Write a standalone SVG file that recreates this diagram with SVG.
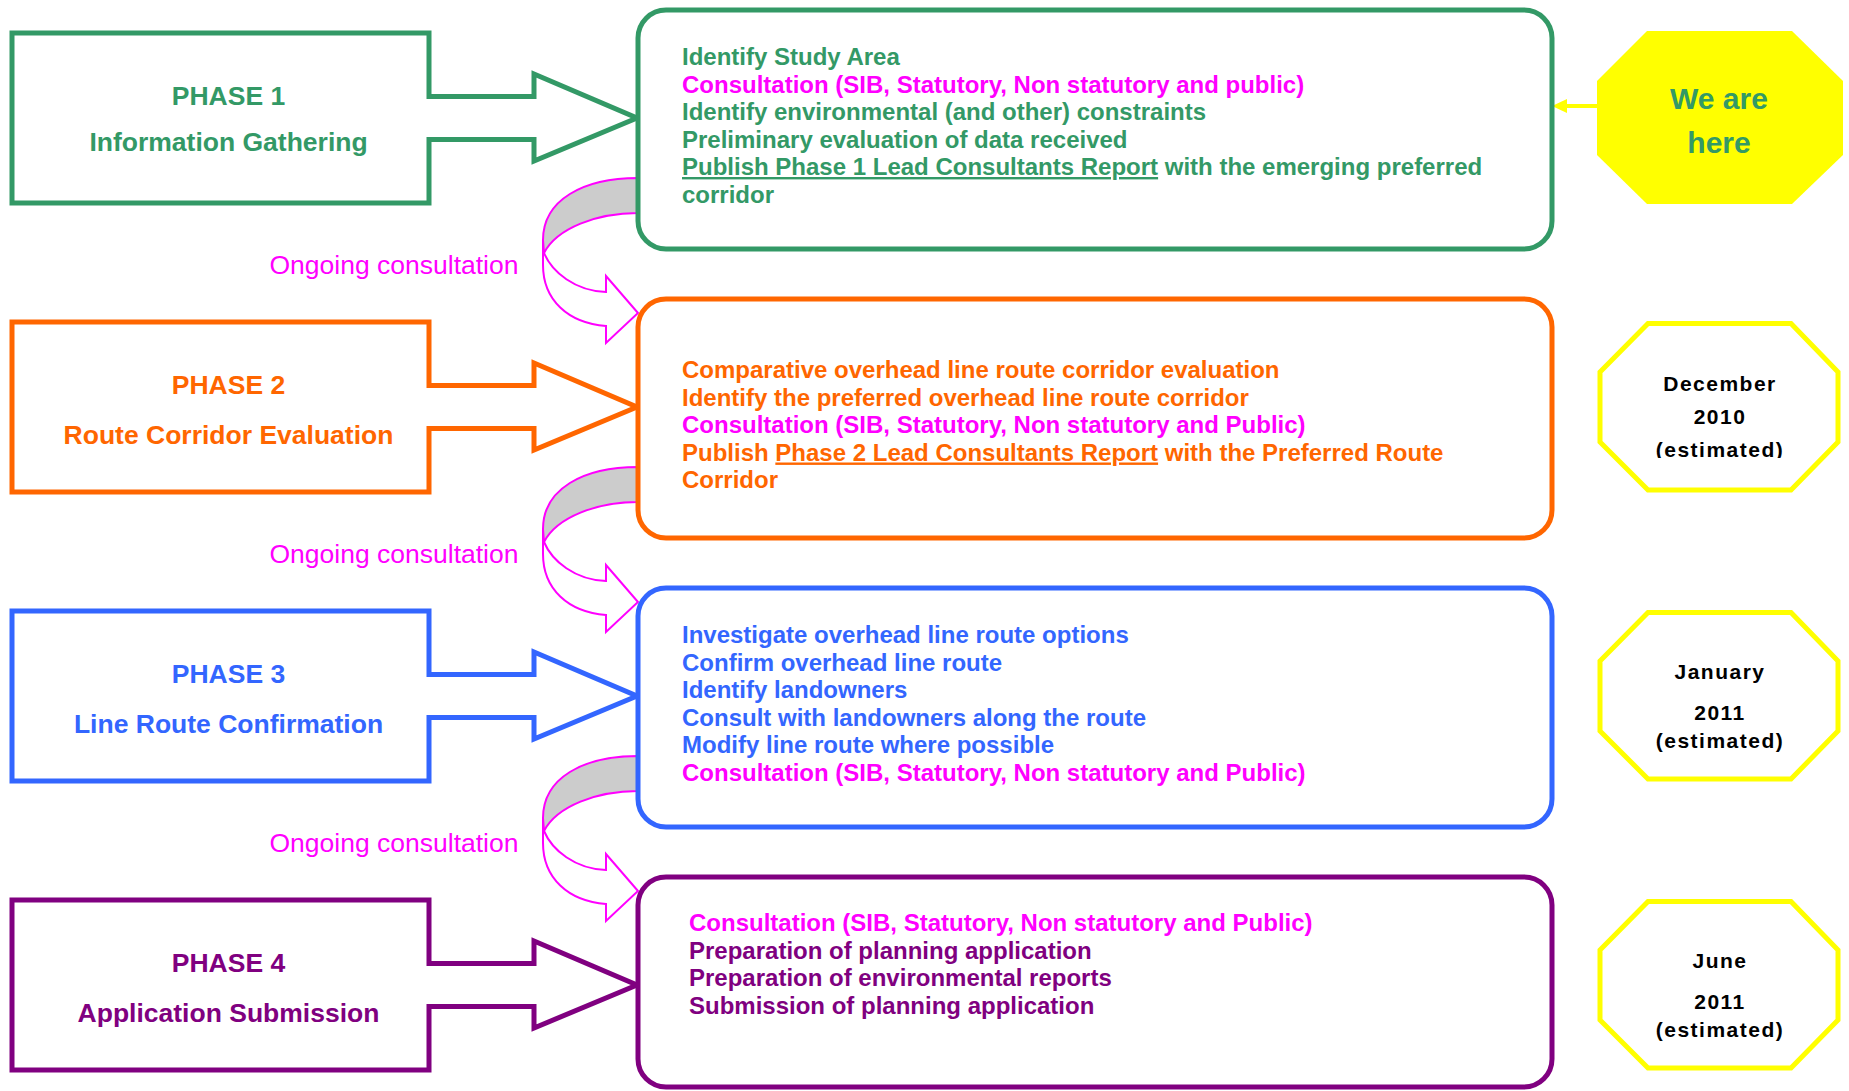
<svg xmlns="http://www.w3.org/2000/svg" width="1849" height="1091" viewBox="0 0 1849 1091">
<defs>
<style>
.ph{fill:#fff;stroke-width:5;stroke-linejoin:miter}
.bx{fill:#fff;stroke-width:5}
.pt{font-family:"Liberation Sans",Arial,sans-serif;font-weight:bold;font-size:26.5px;text-anchor:middle}
.bt{font-family:"Liberation Sans",Arial,sans-serif;font-weight:bold;font-size:24px}
.dt{font-family:"Liberation Sans",Arial,sans-serif;font-weight:bold;font-size:21px;letter-spacing:1.5px;text-anchor:middle;fill:#000}
.oc{font-family:"Liberation Sans",Arial,sans-serif;font-size:26.5px;fill:#FF00FF;text-anchor:middle}
.g{fill:#339966}.o{fill:#FF6600}.b{fill:#3366FF}.p{fill:#800080}.m{fill:#FF00FF}
.gs{stroke:#339966}.os{stroke:#FF6600}.bs{stroke:#3366FF}.ps{stroke:#800080}
.oct{fill:#fff;stroke:#FFFF00;stroke-width:5}
.cg{fill:#CCCCCC;stroke:#FF00FF;stroke-width:2}
.cw{fill:#fff;stroke:#FF00FF;stroke-width:2;stroke-linejoin:miter}
.u{text-decoration:underline}
</style>
<clipPath id="clipDec"><rect x="1580" y="300" width="269" height="158"/></clipPath>
<g id="curve">
<path class="cw" d="M544,253 C552,272 575,291 606,292 L606,276 L638,313 L606,343 L606,326 C568,323 543,300 543,265 L543,240"/>
<path class="cg" d="M638,178 C583,178 543,200 543,240 L544,253 C557,228 597,213 638,213 Z"/>
</g>
</defs>

<g id="connectors">
<use href="#curve"/>
<use href="#curve" transform="translate(0,289)"/>
<use href="#curve" transform="translate(0,578)"/>
<line x1="1597" y1="106" x2="1565" y2="106" stroke="#FFFF00" stroke-width="4"/>
<polygon points="1552,106 1567,99 1567,113" fill="#FFFF00"/>
</g>

<g id="ongoing-labels">
<text class="oc" x="394" y="273.5">Ongoing consultation</text>
<text class="oc" x="394" y="562.5">Ongoing consultation</text>
<text class="oc" x="394" y="851.5">Ongoing consultation</text>
</g>

<g id="phase1">
<polygon class="ph gs" points="12,33 429,33 429,96.5 534,96.5 534,74 637,118 534,161 534,139.5 429,139.5 429,203 12,203"/>
<text class="pt g" x="228.5" y="105">PHASE 1</text>
<text class="pt g" x="228.5" y="150.7">Information Gathering</text>
</g>
<g id="phase2">
<polygon class="ph os" points="12,322 429,322 429,385.5 534,385.5 534,363 637,407 534,450 534,428.5 429,428.5 429,492 12,492"/>
<text class="pt o" x="228.5" y="394">PHASE 2</text>
<text class="pt o" x="228.5" y="443.7">Route Corridor Evaluation</text>
</g>
<g id="phase3">
<polygon class="ph bs" points="12,611 429,611 429,674.5 534,674.5 534,652 637,696 534,739 534,717.5 429,717.5 429,781 12,781"/>
<text class="pt b" x="228.5" y="683">PHASE 3</text>
<text class="pt b" x="228.5" y="732.7">Line Route Confirmation</text>
</g>
<g id="phase4">
<polygon class="ph ps" points="12,900 429,900 429,963.5 534,963.5 534,941 637,985 534,1028 534,1006.5 429,1006.5 429,1070 12,1070"/>
<text class="pt p" x="228.5" y="971.7">PHASE 4</text>
<text class="pt p" x="228.5" y="1021.7">Application Submission</text>
</g>

<g id="box1">
<rect class="bx gs" x="638" y="10" width="914" height="239" rx="28"/>
<text class="bt g" x="682" y="65">Identify Study Area</text>
<text class="bt m" x="682" y="92.5">Consultation (SIB, Statutory, Non statutory and public)</text>
<text class="bt g" x="682" y="120">Identify environmental (and other) constraints</text>
<text class="bt g" x="682" y="147.5">Preliminary evaluation of data received</text>
<text class="bt g" x="682" y="175"><tspan class="u">Publish Phase 1 Lead Consultants Report</tspan> with the emerging preferred</text>
<text class="bt g" x="682" y="202.5">corridor</text>
</g>
<g id="box2">
<rect class="bx os" x="638" y="299" width="914" height="239" rx="28"/>
<text class="bt o" x="682" y="378">Comparative overhead line route corridor evaluation</text>
<text class="bt o" x="682" y="405.5">Identify the preferred overhead line route corridor</text>
<text class="bt m" x="682" y="433">Consultation (SIB, Statutory, Non statutory and Public)</text>
<text class="bt o" x="682" y="460.5">Publish <tspan class="u">Phase 2 Lead Consultants Report</tspan> with the Preferred Route</text>
<text class="bt o" x="682" y="488">Corridor</text>
</g>
<g id="box3">
<rect class="bx bs" x="638" y="588" width="914" height="239" rx="28"/>
<text class="bt b" x="682" y="643">Investigate overhead line route options</text>
<text class="bt b" x="682" y="670.5">Confirm overhead line route</text>
<text class="bt b" x="682" y="698">Identify landowners</text>
<text class="bt b" x="682" y="725.5">Consult with landowners along the route</text>
<text class="bt b" x="682" y="753">Modify line route where possible</text>
<text class="bt m" x="682" y="780.5">Consultation (SIB, Statutory, Non statutory and Public)</text>
</g>
<g id="box4">
<rect class="bx ps" x="638" y="877" width="914" height="210" rx="28"/>
<text class="bt m" x="689" y="931">Consultation (SIB, Statutory, Non statutory and Public)</text>
<text class="bt p" x="689" y="958.5">Preparation of planning application</text>
<text class="bt p" x="689" y="986">Preparation of environmental reports</text>
<text class="bt p" x="689" y="1013.5">Submission of planning application</text>
</g>

<g id="we-are-here">
<polygon points="1647,31 1792,31 1843,81 1843,155 1792,204 1647,204 1597,155 1597,81" fill="#FFFF00"/>
<text x="1719" y="109" font-family="Liberation Sans, Arial, sans-serif" font-weight="bold" font-size="30" fill="#339966" text-anchor="middle">We are</text>
<text x="1719" y="153" font-family="Liberation Sans, Arial, sans-serif" font-weight="bold" font-size="30" fill="#339966" text-anchor="middle">here</text>
</g>
<g id="date-dec">
<polygon class="oct" points="1648,323.5 1791,323.5 1838,372 1838,442 1791,490 1648,490 1600,442 1600,372"/>
<text class="dt" x="1720" y="390.5">December</text>
<text class="dt" x="1720" y="424">2010</text>
<text class="dt" x="1720" y="456.5" clip-path="url(#clipDec)">(estimated)</text>
</g>
<g id="date-jan">
<polygon class="oct" points="1648,612.5 1791,612.5 1838,661 1838,731 1791,779 1648,779 1600,731 1600,661"/>
<text class="dt" x="1720" y="679">January</text>
<text class="dt" x="1720" y="720">2011</text>
<text class="dt" x="1720" y="748">(estimated)</text>
</g>
<g id="date-jun">
<polygon class="oct" points="1648,901.5 1791,901.5 1838,950 1838,1020 1791,1068 1648,1068 1600,1020 1600,950"/>
<text class="dt" x="1720" y="968">June</text>
<text class="dt" x="1720" y="1009">2011</text>
<text class="dt" x="1720" y="1037">(estimated)</text>
</g>
</svg>
